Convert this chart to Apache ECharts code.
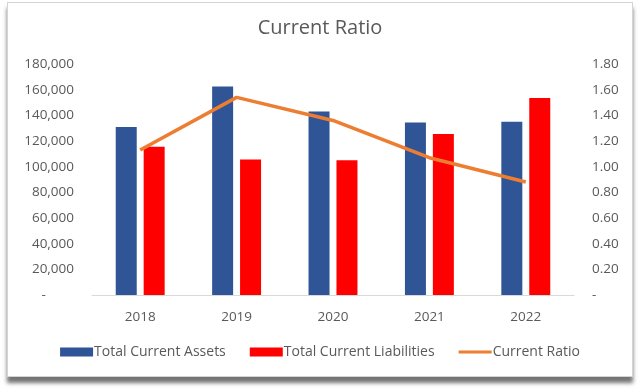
<!DOCTYPE html>
<html>
<head>
<meta charset="utf-8">
<script src="https://cdn.jsdelivr.net/npm/echarts@6/dist/echarts.min.js"></script>
<style>
html,body{margin:0;padding:0;background:#fff;}
#frame{position:absolute;left:7px;top:2px;width:624px;height:373px;border:1px solid #d4d4d4;background:#fff;box-shadow:0 6px 4px rgba(0,0,0,0.55);}
#chart{position:absolute;left:0;top:0;width:640px;height:390px;}
</style>
</head>
<body>
<div id="frame"></div>
<div id="chart"></div>
<script>
const years = ['2018', '2019', '2020', '2021', '2022'];
const totalCurrentAssets = [131000, 162500, 143000, 134500, 135000];
const totalCurrentLiabilities = [115500, 105500, 105000, 125500, 153500];
const currentRatio = [1.13, 1.54, 1.36, 1.07, 0.88];

const FONT = '"Open Sans", "Noto Sans", sans-serif';
const chart = echarts.init(document.getElementById('chart'), null, {renderer: 'canvas'});
chart.setOption({
  backgroundColor: 'transparent',
  animation: false,
  title: {
    text: 'Current Ratio', left: 'center', top: 13,
    textStyle: {fontFamily: FONT, fontSize: 20, fontWeight: 'normal', color: '#595959'}
  },
  legend: {
    bottom: 26, left: 'center', itemGap: 24, itemWidth: 33, itemHeight: 9,
    textStyle: {fontFamily: FONT, fontSize: 14, color: '#595959', padding: [0, 0, 0, -4]},
    data: [
      {name: 'Total Current Assets', icon: 'rect'},
      {name: 'Total Current Liabilities', icon: 'rect'},
      {name: 'Current Ratio', icon: 'path://M0,0 L0.01,0 L0,0.01 Z M0,9 L0.01,9 L0,8.99 Z M0,3 L33,3 L33,6 L0,6 Z'}
    ]
  },
  grid: {left: 92, right: 66, top: 64, bottom: 95},
  xAxis: {
    type: 'category', data: years,
    axisLine: {lineStyle: {color: '#d9d9d9', width: 1}},
    axisTick: {show: false},
    axisLabel: {fontFamily: FONT, fontSize: 13.5, color: '#595959', margin: 15}
  },
  yAxis: [
    {
      type: 'value', min: 0, max: 180000, interval: 20000,
      splitLine: {show: false},
      axisLine: {show: false}, axisTick: {show: false},
      axisLabel: {fontFamily: FONT, fontSize: 13.5, color: '#595959', margin: 18,
        formatter: v => v === 0 ? '-        ' : v.toLocaleString('en-US')}
    },
    {
      type: 'value', min: 0, max: 1.8, interval: 0.2,
      splitLine: {show: false},
      axisLine: {show: false}, axisTick: {show: false},
      axisLabel: {fontFamily: FONT, fontSize: 13.5, color: '#595959', margin: 18,
        formatter: v => v === 0 ? '-' : v.toFixed(2)}
    }
  ],
  series: [
    {name: 'Total Current Assets', type: 'bar', data: totalCurrentAssets,
      barWidth: 21, barGap: '33%', itemStyle: {color: '#2F5597'}},
    {name: 'Total Current Liabilities', type: 'bar', data: totalCurrentLiabilities,
      barWidth: 21, barGap: '33%', itemStyle: {color: '#FF0000'}},
    {name: 'Current Ratio', type: 'line', yAxisIndex: 1, data: currentRatio,
      symbol: 'none', lineStyle: {color: '#ED7D31', width: 3.5}, itemStyle: {color: '#ED7D31'}}
  ]
});
</script>
</body>
</html>
